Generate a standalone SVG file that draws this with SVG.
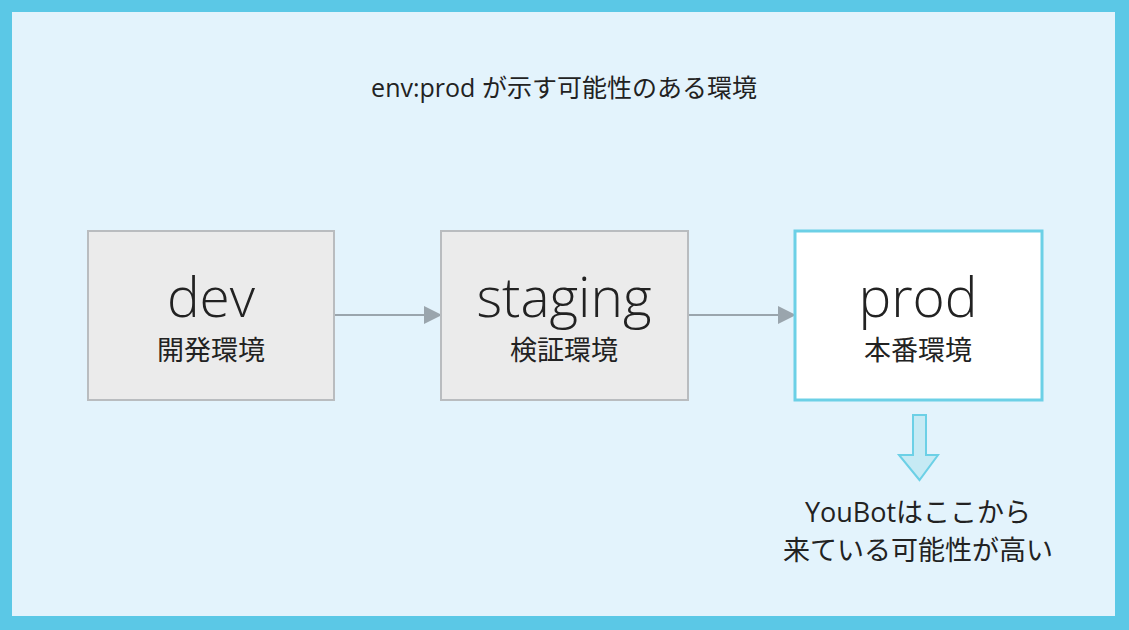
<svg xmlns="http://www.w3.org/2000/svg" width="1129" height="630" viewBox="0 0 1129 630">
<defs>
<style>
.box{fill:#ebebeb;stroke:#b9bcbf;stroke-width:2}
.hl{fill:#ffffff;stroke:#6cd0e6;stroke-width:3}
.t{font-family:"Open Sans","Noto Sans CJK JP",sans-serif;fill:#222;text-anchor:middle}
.big{font-size:55px;font-weight:300}
.sub{font-size:27px}
.conn{stroke:#9aa5ad;stroke-width:2;fill:none}
</style>
<marker id="ah2" markerWidth="18" markerHeight="18" refX="16" refY="9" orient="auto" markerUnits="userSpaceOnUse" viewBox="0 0 18 18">
<path d="M0,0 L18,9 L0,18 Z" fill="#9aa5ad"/>
</marker>
</defs>
<rect x="0" y="0" width="1129" height="630" fill="#5bc8e6"/>
<rect x="12" y="12" width="1103" height="604" fill="#e3f3fc"/>
<text class="t" x="564" y="97" style="font-size:25px">env:prod が示す可能性のある環境</text>
<g id="connectors">
<line class="conn" x1="335" y1="315" x2="440" y2="315" marker-end="url(#ah2)"/>
<line class="conn" x1="689" y1="315" x2="794" y2="315" marker-end="url(#ah2)"/>
<path d="M913,415 L926,415 L926,455 L938,455 L919.5,480 L899,455 L913,455 Z" fill="#c6eaf4" stroke="#6cd0e6" stroke-width="2"/>
</g>
<g id="dev">
<rect class="box" x="88" y="231" width="246" height="169"/>
<text class="t big" x="211" y="317">dev</text>
<text class="t sub" x="211" y="360">開発環境</text>
</g>
<g id="staging">
<rect class="box" x="441" y="231" width="247" height="169"/>
<text class="t big" x="564" y="317">staging</text>
<text class="t sub" x="564" y="360">検証環境</text>
</g>
<g id="prod">
<rect class="hl" x="795" y="231" width="247" height="169"/>
<text class="t big" x="918" y="317">prod</text>
<text class="t sub" x="918" y="360">本番環境</text>
</g>
<g id="note">
<text class="t sub" x="918" y="522">YouBotはここから</text>
<text class="t sub" x="918" y="560">来ている可能性が高い</text>
</g>
</svg>
